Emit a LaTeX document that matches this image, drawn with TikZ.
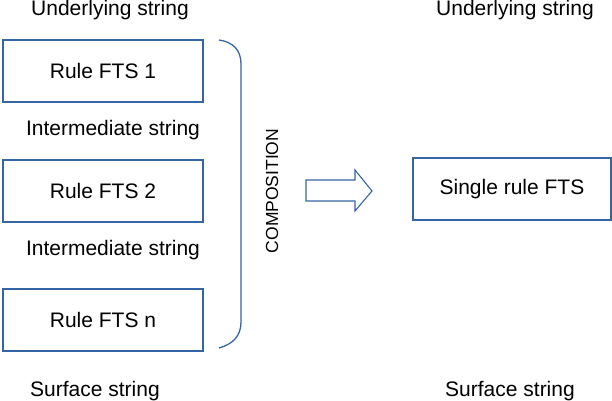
\documentclass[tikz,border=0pt]{standalone}
\usepackage{fontspec}
\setmainfont{Liberation Sans}
\begin{document}
\begin{tikzpicture}[x=1pt,y=-1pt,
  blu/.style={draw={rgb,255:red,52;green,101;blue,164},line width=1.3pt},
  box/.style={blu,minimum width=200pt,minimum height=62pt,font=\fontsize{21}{24}\selectfont},
  lbl/.style={font=\fontsize{21}{24}\selectfont}]
\useasboundingbox (0,0) rectangle (612,400);
\node[box] (r1) at (103,71) {Rule FTS 1};
\node[box] (r2) at (103,191) {Rule FTS 2};
\node[box] (rn) at (103,320) {Rule FTS n};
\node[box,minimum width=198pt] (s) at (512,189) {Single rule FTS};
\node[lbl] (u1) at (110,10) {Underlying string};
\node[lbl] (u2) at (515,10) {Underlying string};
\node[lbl] (i1) at (113,130) {Intermediate string};
\node[lbl] (i2) at (113,250) {Intermediate string};
\node[lbl] (f1) at (95,391) {Surface string};
\node[lbl] (f2) at (510,391) {Surface string};
\node[font=\fontsize{17.5}{20}\selectfont,rotate=90] (c) at (272,191) {COMPOSITION};
\draw[blu] (219,40) .. controls (233,42) and (241,50) .. (241,64) -- (241,322) .. controls (241,336) and (233,344) .. (219,348);
\draw[blu,line width=1.1pt] (306,180) -- (355,180) -- (355,170) -- (372,191) -- (355,211) -- (355,201) -- (306,201) -- cycle;
\end{tikzpicture}
\end{document}
